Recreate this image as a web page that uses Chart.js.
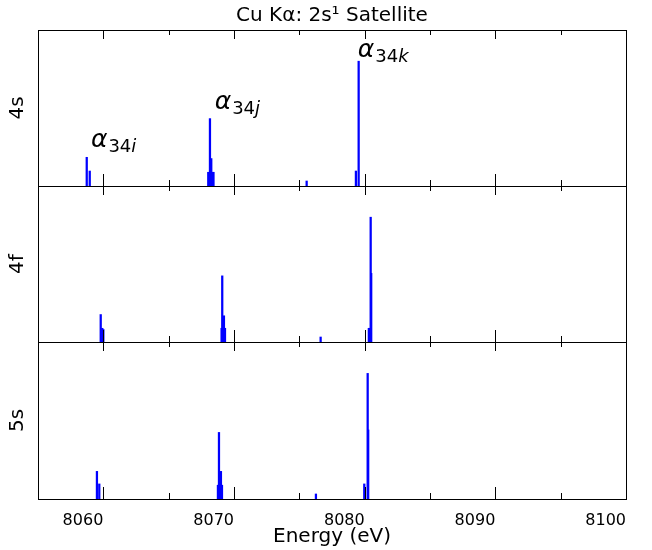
<!DOCTYPE html>
<html>
<head>
<meta charset="utf-8">
<script src="https://cdn.jsdelivr.net/npm/chart.js@4"></script>
<style>
  body { margin: 0; background: #fff; }
  #wrap { position: relative; width: 652px; height: 550px; }
  #wrap canvas { position: absolute; left: 0; top: 0; }
</style>
</head>
<body>
<div id="wrap">
  <canvas id="chart4s" width="652" height="550"></canvas>
  <canvas id="chart4f" width="652" height="550"></canvas>
  <canvas id="chart5s" width="652" height="550"></canvas>
</div>
<script>

// stick positions (eV) and relative intensities
const energy4s = [8058.73, 8058.96, 8068.03, 8068.16, 8068.26, 8068.36, 8068.43, 8075.56, 8079.33, 8079.54];
const int4s    = [0.23, 0.12, 0.11, 0.54, 0.22, 0.11, 0.11, 0.04, 0.12, 1.0];

const energy4f = [8059.80, 8059.92, 8060.00, 8069.05, 8069.10, 8069.23, 8069.31, 8076.63, 8080.32, 8080.46, 8080.50];
const int4f    = [0.22, 0.11, 0.10, 0.11, 0.53, 0.21, 0.11, 0.04, 0.11, 1.0, 0.55];

const energy5s = [8059.51, 8059.69, 8068.77, 8068.85, 8069.00, 8069.08, 8076.27, 8079.97, 8080.23, 8080.27];
const int5s    = [0.22, 0.12, 0.11, 0.53, 0.22, 0.11, 0.04, 0.12, 1.0, 0.55];

const xTickValues = [8060, 8070, 8080, 8090, 8100];
const minorTicks = [8060, 8065, 8070, 8075, 8080, 8085, 8090, 8095];

// peak labels in the 4s panel
const peakNames  = ["i", "j", "k"];
const peakEnergy = [8059.05, 8068.52, 8079.48];
const peakY      = [0.31, 0.62, 1.03];

const FONT = "DejaVu Sans";

function toPoints(xs, ys) {
  let pts = [];
  xs.forEach((e, i) => { pts.push({ x: e, y: ys[i] }); });
  return pts;
}

// box round the panel + inward ticks, top and bottom
const frameTicks = {
  id: "frameTicks",
  afterDatasetsDraw(chart) {
    const ctx = chart.ctx;
    const a = chart.chartArea;
    const x = chart.scales.x;
    ctx.save();
    ctx.strokeStyle = "#000";
    ctx.lineWidth = 1;
    ctx.strokeRect(Math.round(a.left) + 0.5, Math.round(a.top) + 0.5,
                   Math.round(a.right - a.left), Math.round(a.bottom - a.top));
    ctx.beginPath();
    minorTicks.forEach(v => {
      const px = Math.round(x.getPixelForValue(v)) + 0.5;
      const major = v % 10 === 0;
      const up = major ? 12 : 6;
      const down = major ? 9 : 5;
      ctx.moveTo(px, a.bottom);
      ctx.lineTo(px, a.bottom - up);
      ctx.moveTo(px, a.top);
      ctx.lineTo(px, a.top + down);
    });
    ctx.stroke();
    ctx.restore();
  }
};

const peakLabels = {
  id: "peakLabels",
  afterDatasetsDraw(chart) {
    const ctx = chart.ctx;
    const x = chart.scales.x;
    const y = chart.scales.y;
    ctx.save();
    ctx.fillStyle = "#000";
    ctx.textBaseline = "alphabetic";
    peakNames.forEach((n, i) => {
      let px = x.getPixelForValue(peakEnergy[i]);
      let py = y.getPixelForValue(peakY[i]);
      ctx.font = "italic 25px '" + FONT + "'";
      ctx.fillText("α", px, py);
      px += ctx.measureText("α").width + 1;
      ctx.font = "18px '" + FONT + "'";
      ctx.fillText("34", px, py + 5);
      px += ctx.measureText("34").width;
      ctx.font = "italic 18px '" + FONT + "'";
      ctx.fillText(n, px, py + 5);
    });
    ctx.restore();
  }
};

function makePanel(id, label, xs, ys, opts) {
  return new Chart(document.getElementById(id), {
    type: "bar",
    data: {
      datasets: [{
        data: toPoints(xs, ys),
        backgroundColor: "#0000ff",
        borderWidth: 0,
        barThickness: 1.6,
        grouped: false
      }]
    },
    options: {
      responsive: false,
      animation: false,
      events: [],
      layout: { padding: opts.padding },
      plugins: {
        legend: { display: false },
        tooltip: { enabled: false },
        title: opts.title || { display: false }
      },
      scales: {
        x: opts.x,
        y: {
          min: 0,
          max: 1.25,
          ticks: { display: false },
          grid: { display: false },
          border: { display: false },
          title: {
            display: true,
            text: label,
            color: "#000",
            font: { family: FONT, size: 20 },
            padding: { top: 6, bottom: 0 }
          },
          afterFit: s => { s.width = 38; }
        }
      }
    },
    plugins: opts.plugins
  });
}

const hiddenX = { type: "linear", min: 8055, max: 8100, offset: false, display: false };

makePanel("chart4s", "4s", energy4s, int4s, {
  padding: { top: 0, bottom: 364, left: 0, right: 26 },
  title: {
    display: true,
    fullSize: false,
    text: "Cu Kα: 2s¹ Satellite",
    color: "#000",
    font: { family: FONT, size: 20, weight: "normal" },
    padding: { top: 4, bottom: 2 }
  },
  x: hiddenX,
  plugins: [frameTicks, peakLabels]
});

makePanel("chart4f", "4f", energy4f, int4f, {
  padding: { top: 186, bottom: 208, left: 0, right: 26 },
  x: hiddenX,
  plugins: [frameTicks]
});

makePanel("chart5s", "5s", energy5s, int5s, {
  padding: { top: 342, bottom: 0, left: 0, right: 26 },
  x: {
    type: "linear",
    min: 8055,
    max: 8100,
    offset: false,
    afterBuildTicks: s => { s.ticks = xTickValues.map(v => ({ value: v })); },
    ticks: {
      color: "#000",
      font: { family: FONT, size: 16 },
      padding: 4,
      align: "end",
      maxRotation: 0,
      callback: v => String(v)
    },
    grid: { display: false },
    border: { display: false },
    title: {
      display: true,
      text: "Energy (eV)",
      color: "#000",
      font: { family: FONT, size: 20 },
      padding: { top: 2, bottom: 1 }
    },
    afterFit: s => { s.height = 51; }
  },
  plugins: [frameTicks]
});

</script>
</body>
</html>
